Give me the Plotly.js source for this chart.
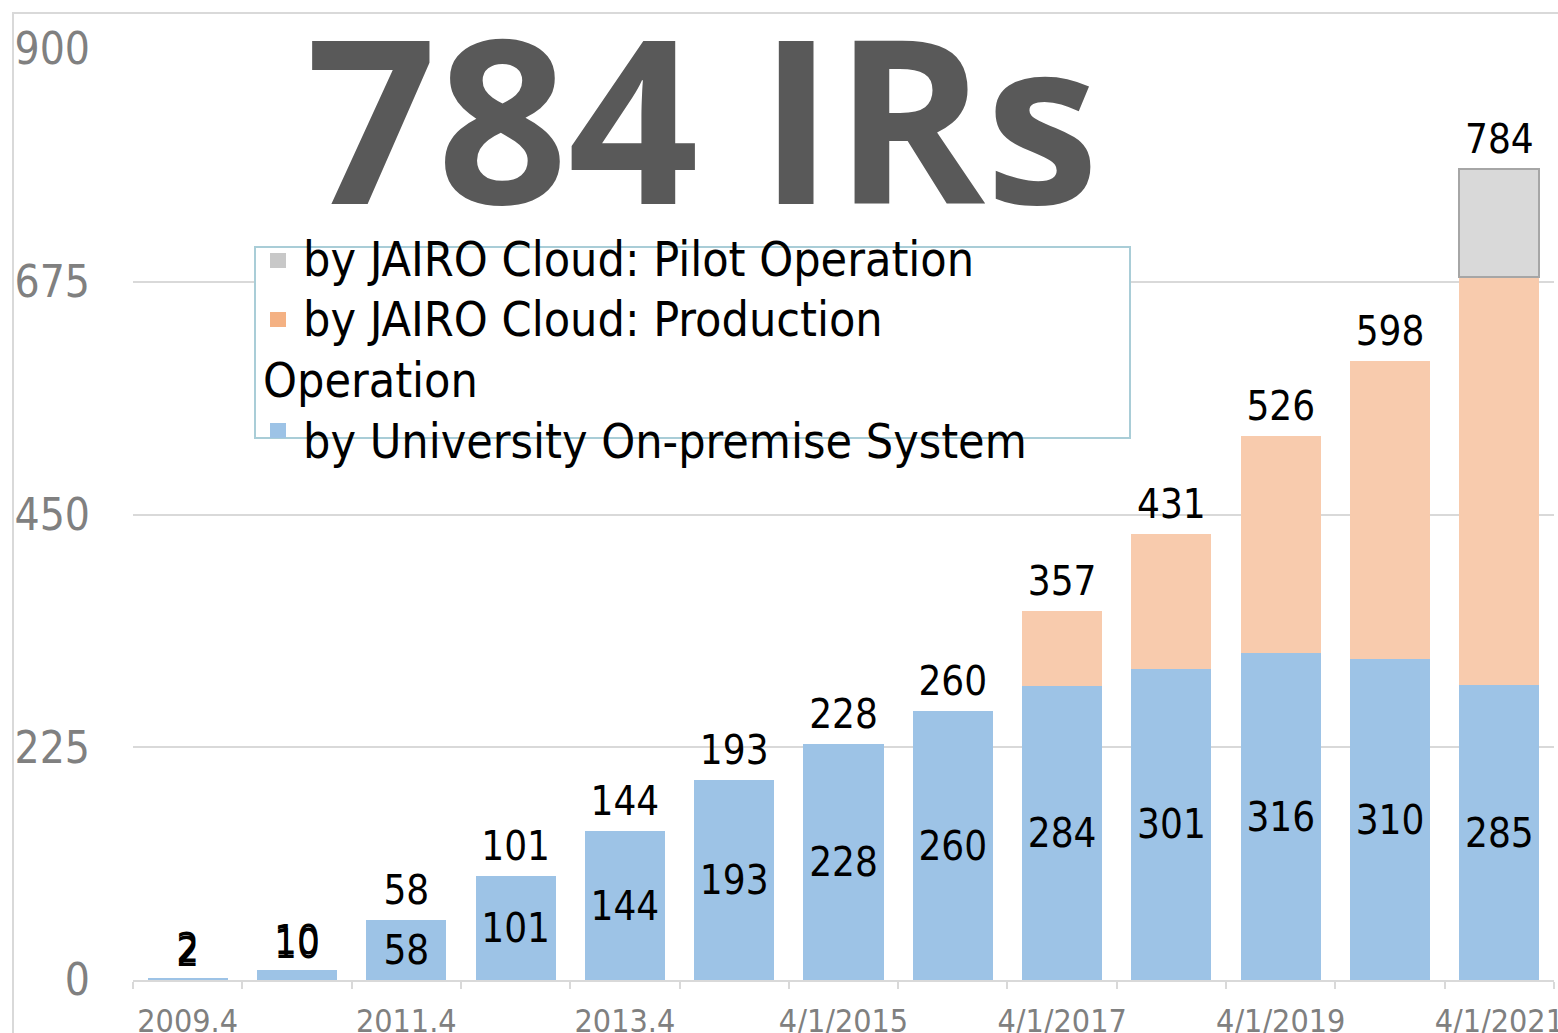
<!DOCTYPE html>
<html>
<head>
<meta charset="utf-8">
<script src="https://cdn.plot.ly/plotly-3.0.1.min.js"></script>
<style>html,body{margin:0;padding:0;background:#fff;}#chart{width:1558px;height:1033px;}</style>
</head>
<body>
<div id="chart"></div>
<script>
// ---- data ----
const categories = ['2009.4','2010.4','2011.4','2012.4','2013.4','2014.4','4/1/2015','4/1/2016','4/1/2017','4/1/2018','4/1/2019','4/1/2020','4/1/2021'];
const tickLabels = ['2009.4','','2011.4','','2013.4','','4/1/2015','','4/1/2017','','4/1/2019','','4/1/2021'];
const university = [2,10,58,101,144,193,228,260,284,301,316,310,285];
const production = [null,null,null,null,null,null,null,null,73,130,210,288,395];
const pilot = [null,null,null,null,null,null,null,null,null,null,null,null,104];
const totals = [2,10,58,101,144,193,228,260,357,431,526,598,784];
const seriesNames = ['by University On-premise System','by JAIRO Cloud: Production Operation','by JAIRO Cloud: Pilot Operation'];
const titleText = '784 IRs';
const yTicks = [0,225,450,675,900];

// ---- styles ----
const FONT = 'DejaVu Sans Condensed, DejaVu Sans, sans-serif';
const colBlue = '#9dc3e6', colOrange = '#f8cbad', colGray = '#d9d9d9';
const swBlue = '#9dc3e6', swOrange = '#f4b183', swGray = '#c8c8c8';

// layout geometry (pixels)
const L = 133, R = 4, T = 49, B = 53, W = 1558, H = 1033;
const PW = W - L - R, PH = H - T - B;
const px = v => (v - L) / PW;
const py = v => (H - B - v) / PH;

const traces = [
  {type:'bar', x:categories, y:university, name:seriesNames[0], marker:{color:colBlue},
   text:university.map(String), textposition:'auto', insidetextanchor:'middle', textangle:0,
   constraintext:'none', cliponaxis:false,
   insidetextfont:{family:FONT,size:40,color:'#000'}, outsidetextfont:{family:FONT,size:40,color:'#000'}, hoverinfo:'skip'},
  {type:'bar', x:categories, y:production, name:seriesNames[1], marker:{color:colOrange}, hoverinfo:'skip'},
  {type:'bar', x:categories, y:pilot, name:seriesNames[2], marker:{color:colGray, line:{color:'#a6a6a6', width:2}}, hoverinfo:'skip'},
  {type:'scatter', mode:'markers+text', x:categories, y:totals, text:totals.map(String), textposition:'top center',
   marker:{size:8, color:'rgba(0,0,0,0)'},
   textfont:{family:FONT,size:40,color:'#000'}, cliponaxis:false, showlegend:false, hoverinfo:'skip'}
];

// manual legend
const prodParts = (() => { const n = seriesNames[1]; const i = n.lastIndexOf(' '); return [n.slice(0,i), n.slice(i+1)]; })();
const legFont = {family:FONT, size:48, color:'#000'};
const annotations = [
  {xref:'paper', yref:'paper', x:px(304), y:py(115), xanchor:'left', yanchor:'middle', showarrow:false,
   text:'<b>'+titleText+'</b>', font:{family:'Open Sans, Liberation Sans, sans-serif', size:229, color:'#595959'}},
  {xref:'paper', yref:'paper', x:px(301), y:py(259), xanchor:'left', yanchor:'middle', showarrow:false, text:seriesNames[2], font:legFont},
  {xref:'paper', yref:'paper', x:px(301), y:py(319), xanchor:'left', yanchor:'middle', showarrow:false, text:prodParts[0], font:legFont},
  {xref:'paper', yref:'paper', x:px(261), y:py(380), xanchor:'left', yanchor:'middle', showarrow:false, text:prodParts[1], font:legFont},
  {xref:'paper', yref:'paper', x:px(301), y:py(441), xanchor:'left', yanchor:'middle', showarrow:false, text:seriesNames[0], font:legFont}
];
const sq = (x0,y0,c) => ({type:'rect', xref:'paper', yref:'paper', x0:px(x0), x1:px(x0+16), y0:py(y0+15), y1:py(y0), fillcolor:c, line:{width:0}, layer:'above'});
const shapes = [
  {type:'rect', xref:'paper', yref:'paper', x0:px(13), x1:1.05, y0:-0.2, y1:py(13), line:{color:'#d9d9d9', width:2}, layer:'below'},
  {type:'rect', xref:'paper', yref:'paper', x0:px(255), x1:px(1130), y0:py(438), y1:py(247), fillcolor:'#fff', line:{color:'#a9cdd7', width:2}, layer:'above'},
  sq(270,253,swGray), sq(270,312,swOrange), sq(270,423,swBlue)
];

const layout = {
  width:W, height:H, margin:{l:L, r:R, t:T, b:B, pad:0},
  paper_bgcolor:'#fff', plot_bgcolor:'#fff',
  barmode:'stack', bargap:0.268, showlegend:false,
  xaxis:{type:'category', range:[-0.5, categories.length - 0.5], tickvals:categories, ticktext:tickLabels.slice(0,categories.length), tickson:'boundaries',
    ticks:'outside', ticklen:7, tickwidth:2, tickcolor:'#d9d9d9', showline:true, linecolor:'#d9d9d9', linewidth:2,
    showgrid:false, tickangle:0, tickfont:{family:FONT, size:32, color:'#808080'}, ticklabelstandoff:12, fixedrange:true},
  yaxis:{range:[0,900], tickvals:yTicks, showgrid:true, gridcolor:'#d9d9d9', gridwidth:2, zeroline:false, showline:false,
    ticks:'', tickfont:{family:FONT, size:44, color:'#808080'}, ticklabelstandoff:42, fixedrange:true},
  annotations:annotations, shapes:shapes, font:{family:FONT}
};
Plotly.newPlot('chart', traces, layout, {staticPlot:true, displayModeBar:false});
</script>
</body>
</html>
